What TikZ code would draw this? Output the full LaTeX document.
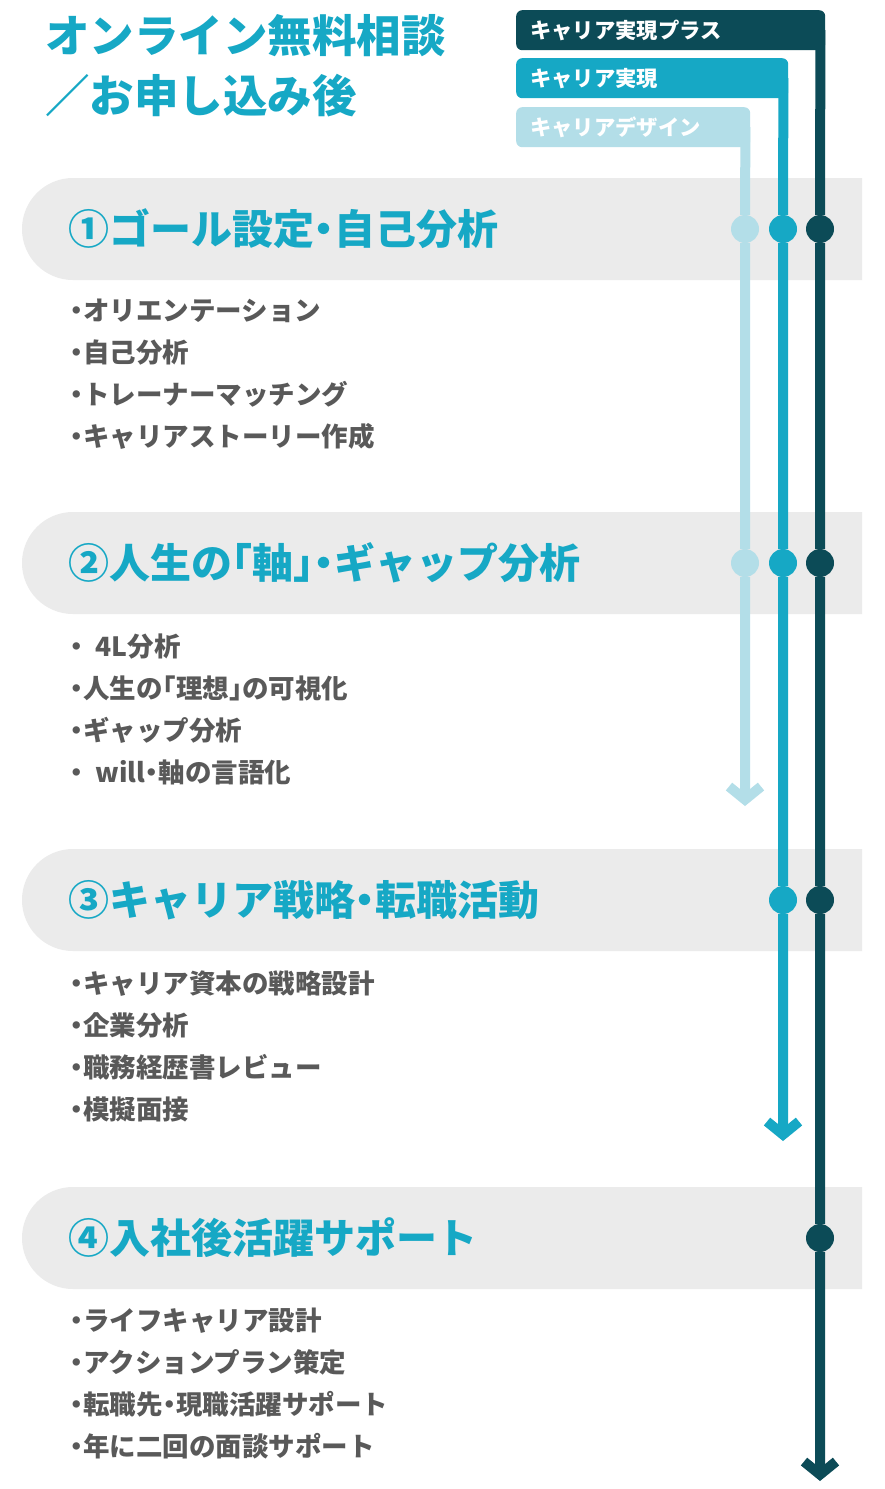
\documentclass[tikz,border=0pt]{standalone}
\usepackage{fontspec}
\setmainfont{Noto Sans CJK JP}
\newfontfamily\halfwidth{Noto Sans CJK JP}[RawFeature=+halt]
\definecolor{cdark}{HTML}{0C4B57}
\definecolor{cmid}{HTML}{16A8C5}
\definecolor{clight}{HTML}{B3DEE8}
\definecolor{cband}{HTML}{EBEBEB}
\definecolor{ctext}{HTML}{595959}
\usepackage{tikz}
\usetikzlibrary{arrows.meta, positioning, shapes.misc}

\begin{document}
\begin{tikzpicture}[x=1pt, y=-1pt,
  band/.style={rounded rectangle, rounded rectangle right arc=none, fill=cband,
    minimum width=840pt, minimum height=102pt, inner sep=0pt},
  steplabel/.style={font=\halfwidth\bfseries\fontsize{41}{41}\selectfont, text=cmid, inner sep=0pt},
  items/.style={align=left, font=\halfwidth\bfseries\fontsize{26.5}{42}\selectfont, text=ctext, inner sep=0pt},
  tab/.style={anchor=north west, rounded corners=6pt, minimum height=40pt, inner xsep=14pt,
    inner ysep=0pt, text=white, align=left, font=\bfseries\fontsize{21.3}{21}\selectfont},
  dot/.style={circle, minimum size=28pt, inner sep=0pt},
  track/.style={line width=10pt, -{Straight Barb[length=13pt, width=32pt]}}]
  \path[use as bounding box, fill=white] (0,0) rectangle (885,1489);

  \node[anchor=north west, align=left, inner sep=0pt, text=cmid,
        font=\bfseries\fontsize{44.5}{60}\selectfont] (title) at (45,14)
    {オンライン無料相談\\／お申し込み後};

  % plan tabs
  \node[tab, fill=cdark, text width=281pt] (tabplus) at (516,10) {キャリア実現プラス};
  \node[tab, fill=cmid, text width=244pt] (tabreal) at (516,58) {キャリア実現};
  \node[tab, fill=clight, text width=206pt] (tabdesign) at (516,107) {キャリアデザイン};

  % steps
  \node[band] (band1) at (442,229) {};
  \node[band] (band2) at (442,563) {};
  \node[band] (band3) at (442,900) {};
  \node[band] (band4) at (442,1238) {};

  \node[steplabel, right=46pt of band1.west] (label1) {①ゴール設定・自己分析};
  \node[steplabel, right=46pt of band2.west] (label2) {②人生の「軸」・ギャップ分析};
  \node[steplabel, right=46pt of band3.west] (label3) {③キャリア戦略・転職活動};
  \node[steplabel, right=46pt of band4.west] (label4) {④入社後活躍サポート};

  \node[items, below right=19pt and -3pt of band1.south west] (list1)
    {・オリエンテーション\\・自己分析\\・トレーナーマッチング\\・キャリアストーリー作成};
  \node[items, below right=19pt and -3pt of band2.south west] (list2)
    {・\ \ 4L分析\\・人生の「理想」の可視化\\・ギャップ分析\\・\ \ will・軸の言語化};
  \node[items, below right=19pt and -3pt of band3.south west] (list3)
    {・キャリア資本の戦略設計\\・企業分析\\・職務経歴書レビュー\\・模擬面接};
  \node[items, below right=19pt and -3pt of band4.south west] (list4)
    {・ライフキャリア設計\\・アクションプラン策定\\・転職先・現職活躍サポート\\・年に二回の面談サポート};

  % tracks
  \coordinate (enddesign) at (745,806);
  \coordinate (endreal) at (783,1141);
  \coordinate (endplus) at (820,1481);

  \node[dot, fill=clight] (design1) at (band1 -| enddesign) {};
  \node[dot, fill=clight] (design2) at (band2 -| enddesign) {};
  \node[dot, fill=cmid] (real1) at (band1 -| endreal) {};
  \node[dot, fill=cmid] (real2) at (band2 -| endreal) {};
  \node[dot, fill=cmid] (real3) at (band3 -| endreal) {};
  \node[dot, fill=cdark] (plus1) at (band1 -| endplus) {};
  \node[dot, fill=cdark] (plus2) at (band2 -| endplus) {};
  \node[dot, fill=cdark] (plus3) at (band3 -| endplus) {};
  \node[dot, fill=cdark] (plus4) at (band4 -| endplus) {};

  \draw[track, clight] ([xshift=-5pt]tabdesign.east) -- (design1) -- (design2) -- (enddesign);
  \draw[track, cmid] ([xshift=-5pt]tabreal.east) -- (real1) -- (real2) -- (real3) -- (endreal);
  \draw[track, cdark] ([xshift=-5pt]tabplus.east) -- (plus1) -- (plus2) -- (plus3) -- (plus4) -- (endplus);
\end{tikzpicture}
\end{document}
